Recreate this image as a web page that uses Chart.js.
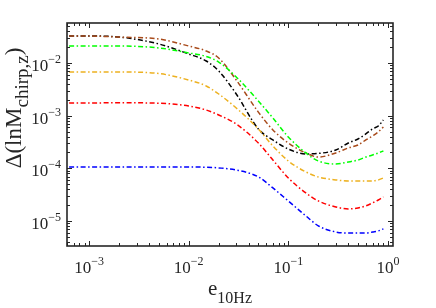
<!DOCTYPE html>
<html>
<head>
<meta charset="utf-8">
<script src="https://cdn.jsdelivr.net/npm/chart.js@4"></script>
<style>
  html, body { margin: 0; padding: 0; background: #fff; }
  canvas { display: block; }
</style>
</head>
<body>
<canvas id="c" width="436" height="308"></canvas>
<script>
'use strict';

// ── Data ──────────────────────────────────────────────────────────────────────
const eccentricity = [6.3e-4, 1e-3, 2e-3, 5e-3, 0.01, 0.015, 0.02, 0.03, 0.05, 0.07,
                      0.1, 0.15, 0.2, 0.3, 0.4, 0.5, 0.6, 0.7, 0.8, 0.9];

const blueSeries   = [1.06e-4, 1.06e-4, 1.06e-4, 1.06e-4, 1.06e-4, 1.05e-4, 1.02e-4, 9.3e-5, 6.9e-5, 4.25e-5,
                      2.4e-5, 1.25e-5, 8.1e-6, 6.2e-6, 5.9e-6, 5.9e-6, 5.9e-6, 6.2e-6, 6.5e-6, 7.1e-6];
const redSeries    = [1.74e-3, 1.74e-3, 1.76e-3, 1.72e-3, 1.53e-3, 1.28e-3, 1.03e-3, 6.96e-4, 3.03e-4, 1.44e-4,
                      6.57e-5, 3.41e-5, 2.41e-5, 1.85e-5, 1.70e-5, 1.77e-5, 1.94e-5, 2.21e-5, 2.51e-5, 2.86e-5];
const orangeSeries = [6.75e-3, 6.75e-3, 6.75e-3, 6.3e-3, 4.75e-3, 3.66e-3, 2.58e-3, 1.40e-3, 5.6e-4, 2.66e-4,
                      1.38e-4, 8.55e-5, 6.87e-5, 6.03e-5, 5.77e-5, 5.77e-5, 5.77e-5, 5.77e-5, 6.03e-5, 6.57e-5];
const greenSeries  = [2.10e-2, 2.10e-2, 2.10e-2, 1.93e-2, 1.55e-2, 1.33e-2, 1.04e-2, 5.42e-3, 1.90e-3, 9.04e-4,
                      3.94e-4, 1.96e-4, 1.38e-4, 1.21e-4, 1.32e-4, 1.44e-4, 1.64e-4, 1.79e-4, 1.96e-4, 2.14e-4];
const brownSeries  = [3.25e-2, 3.25e-2, 3.1e-2, 2.85e-2, 2.10e-2, 1.69e-2, 1.24e-2, 4.75e-3, 1.17e-3, 5.36e-4,
                      3.03e-4, 1.96e-4, 1.64e-4, 1.96e-4, 2.44e-4, 2.78e-4, 3.46e-4, 4.12e-4, 4.91e-4, 6.11e-4];
const blackSeries  = [3.25e-2, 3.25e-2, 3.11e-2, 2.30e-2, 1.48e-2, 1.09e-2, 7.05e-3, 2.58e-3, 5.60e-4, 3.46e-4,
                      2.33e-4, 1.88e-4, 1.92e-4, 2.23e-4, 3.03e-4, 3.61e-4, 4.50e-4, 5.60e-4, 6.38e-4, 8.28e-4];

const xTickExps = [-3, -2, -1, 0];
const yTickExps = [-5, -4, -3, -2];

// ── Styles ────────────────────────────────────────────────────────────────────
const INK   = '#262626';
const SERIF = "'Liberation Serif', 'Times New Roman', serif";

function series(values, color) {
  return {
    data: eccentricity.map((x, i) => ({ x, y: values[i] })),
    borderColor: color,
    borderWidth: 1.5,
    borderDash: [5, 2.5, 1.5, 2.5],
    pointRadius: 0,
    fill: false,
    cubicInterpolationMode: 'monotone',
  };
}

// ── Axes, ticks and labels drawn in MATLAB style ──────────────────────────────
function power10(ctx, exp, x, y, align) {
  const base = '10', sup = String(exp).replace('-', '\u2212');
  ctx.font = `17px ${ SERIF }`;
  const wb = ctx.measureText(base).width;
  ctx.font = `12px ${ SERIF }`;
  const ws = ctx.measureText(sup).width;
  const w = wb + ws;
  const left = align === 'right' ? x - w : x - w / 2;
  ctx.textAlign = 'left';
  ctx.textBaseline = 'alphabetic';
  ctx.font = `17px ${ SERIF }`;
  ctx.fillText(base, left, y);
  ctx.font = `12px ${ SERIF }`;
  ctx.fillText(sup, left + wb, y - 8);
}

const matlabAxes = {
  id: 'matlabAxes',
  afterDraw(chart) {
    const { ctx, chartArea: a, scales: { x, y } } = chart;
    ctx.save();
    ctx.strokeStyle = INK;
    ctx.fillStyle = INK;

    // minor + major ticks, inward, all four sides
    ctx.lineWidth = 1;
    ctx.beginPath();
    for (let d = -4; d <= 0; d++) {
      for (let k = 1; k <= 9; k++) {
        const v = k * Math.pow(10, d);
        if (v < x.min || v > x.max) continue;
        const px = Math.round(x.getPixelForValue(v)) + 0.5;
        const len = k === 1 ? 5 : 3;
        ctx.moveTo(px, a.bottom); ctx.lineTo(px, a.bottom - len);
        ctx.moveTo(px, a.top);    ctx.lineTo(px, a.top + len);
      }
    }
    for (let d = -6; d <= -1; d++) {
      for (let k = 1; k <= 9; k++) {
        const v = k * Math.pow(10, d);
        if (v < y.min || v > y.max) continue;
        const py = Math.round(y.getPixelForValue(v)) + 0.5;
        const len = k === 1 ? 5 : 3;
        ctx.moveTo(a.left, py);  ctx.lineTo(a.left + len, py);
        ctx.moveTo(a.right, py); ctx.lineTo(a.right - len, py);
      }
    }
    ctx.stroke();

    // frame
    ctx.lineWidth = 1.6;
    ctx.strokeRect(a.left, a.top, a.right - a.left, a.bottom - a.top);

    // tick labels
    xTickExps.forEach(e => power10(ctx, e, x.getPixelForValue(Math.pow(10, e)), a.bottom + 27, 'center'));
    yTickExps.forEach(e => power10(ctx, e, a.left - 6, y.getPixelForValue(Math.pow(10, e)) + 8, 'right'));

    // x title: e_10Hz
    ctx.textAlign = 'left';
    ctx.font = `21px ${ SERIF }`;
    const we = ctx.measureText('e').width;
    ctx.font = `16px ${ SERIF }`;
    const wsub = ctx.measureText('10Hz').width;
    const xl = (a.left + a.right) / 2 - (we + wsub) / 2;
    ctx.font = `21px ${ SERIF }`;
    ctx.fillText('e', xl, 295);
    ctx.font = `16px ${ SERIF }`;
    ctx.fillText('10Hz', xl + we, 303);

    // y title: Δ(lnM_chirp,z)
    ctx.translate(21, 108);
    ctx.rotate(-Math.PI / 2);
    const parts = [['\u0394(lnM', 23, 0], ['chirp,z', 19, 7], [')', 23, 0]];
    let total = 0;
    parts.forEach(([t, s]) => { ctx.font = `${ s }px ${ SERIF }`; total += ctx.measureText(t).width; });
    let cx = -total / 2;
    parts.forEach(([t, s, dy]) => {
      ctx.font = `${ s }px ${ SERIF }`;
      ctx.fillText(t, cx, dy);
      cx += ctx.measureText(t).width;
    });
    ctx.restore();
  }
};

// ── Chart ─────────────────────────────────────────────────────────────────────
new Chart(document.getElementById('c'), {
  type: 'line',
  data: {
    datasets: [
      series(blueSeries,   '#0000ff'),
      series(redSeries,    '#ff0000'),
      series(orangeSeries, '#edb120'),
      series(greenSeries,  '#00ff00'),
      series(brownSeries,  '#a84a1a'),
      series(blackSeries,  '#000000'),
    ]
  },
  options: {
    responsive: false,
    animation: false,
    layout: { padding: { left: 67, right: 43, top: 23, bottom: 62 } },
    plugins: { legend: { display: false }, tooltip: { enabled: false } },
    scales: {
      x: { type: 'logarithmic', min: 6.3e-4, max: 1.124, display: false },
      y: { type: 'logarithmic', min: 3.36e-6, max: 5.74e-2, display: false },
    },
  },
  plugins: [matlabAxes],
});
</script>
</body>
</html>
